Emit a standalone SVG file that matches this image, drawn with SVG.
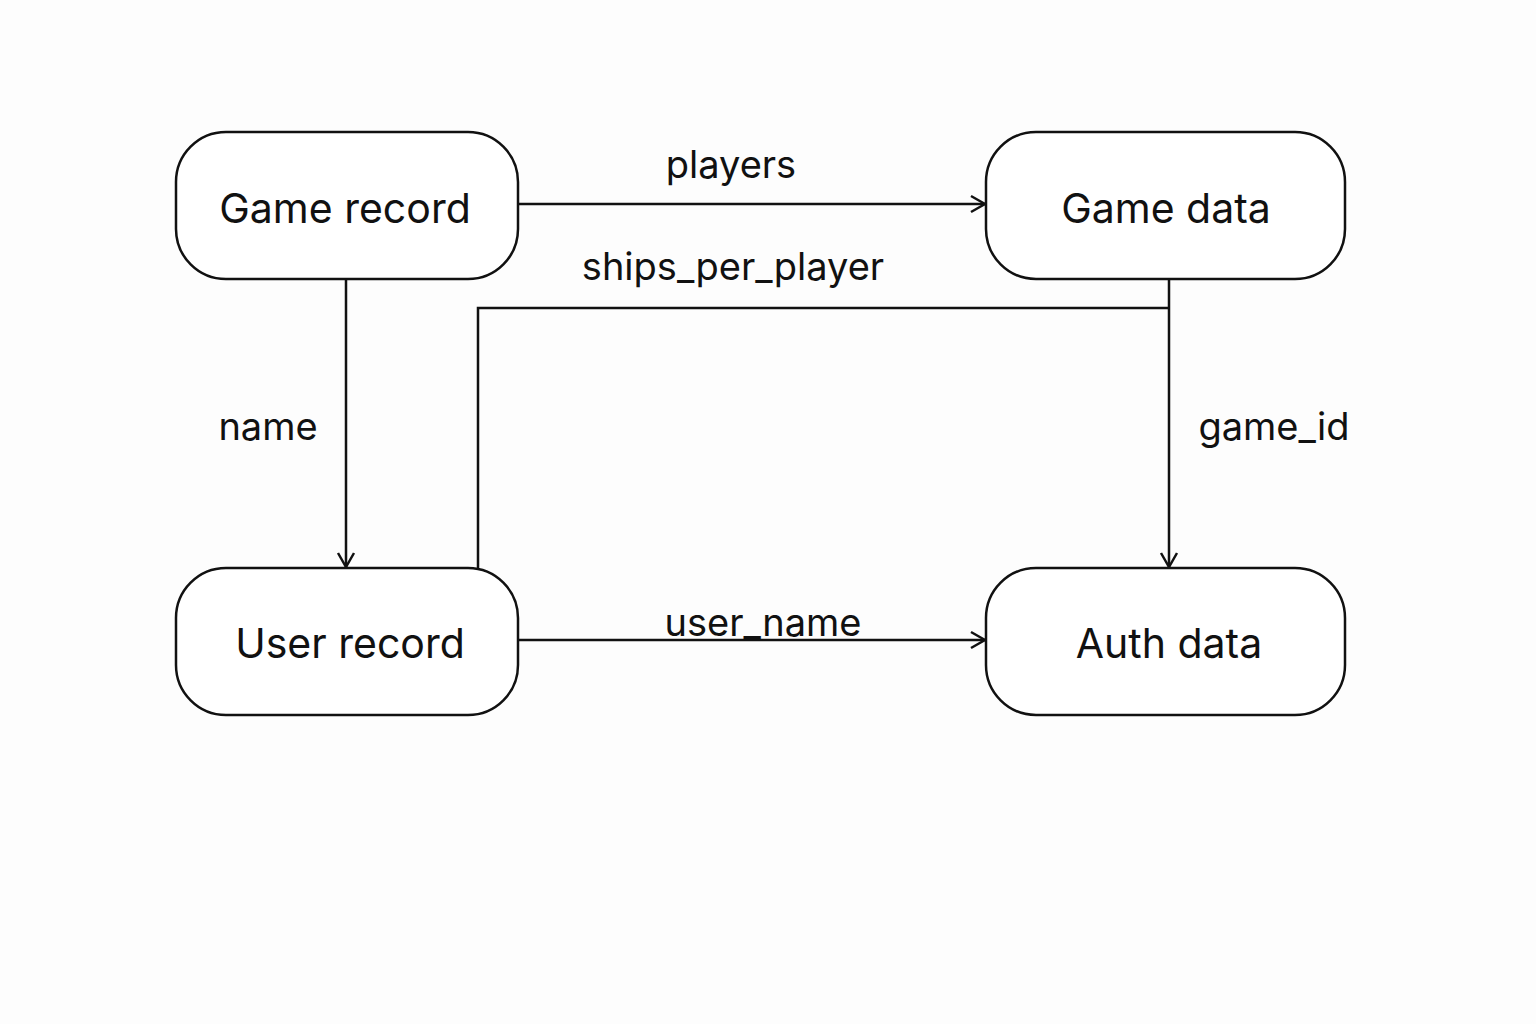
<svg xmlns="http://www.w3.org/2000/svg" width="1536" height="1024" viewBox="0 0 1536 1024">
<style>
.node rect{fill:#fff;stroke:#111;stroke-width:2.5}
.label{font-family:Inter,"Noto Sans",sans-serif;font-size:38px;fill:#111;text-anchor:middle}
.node text{font-size:41px}
.edge{fill:none;stroke:#111;stroke-width:2.5}
</style>
<defs>
<marker id="arr" viewBox="0 0 20 20" refX="18" refY="10" markerWidth="20" markerHeight="20" markerUnits="userSpaceOnUse" orient="auto">
<path d="M4,2 L18,10 L4,18" fill="none" stroke="#111" stroke-width="2.5"/>
</marker>
</defs>
<rect width="1536" height="1024" fill="#fdfdfd"/>
<g id="connectors">
<line class="edge" x1="518" y1="204" x2="985" y2="204" marker-end="url(#arr)"/>
<line class="edge" x1="346" y1="279" x2="346" y2="567" marker-end="url(#arr)"/>
<line class="edge" x1="1169" y1="279" x2="1169" y2="567" marker-end="url(#arr)"/>
<line class="edge" x1="518" y1="640" x2="985" y2="640" marker-end="url(#arr)"/>
<polyline class="edge" points="478,568 478,308 1169,308"/>
<text class="label" x="731" y="178">players</text>
<text class="label" x="733" y="280">ships_per_player</text>
<text class="label" x="268" y="440">name</text>
<text class="label" x="1274" y="440">game_id</text>
<text class="label" x="763" y="636">user_name</text>
</g>
<g id="game-record" class="node">
<rect x="176" y="132" width="342" height="147" rx="50"/>
<text class="label" x="345" y="223">Game record</text>
</g>
<g id="game-data" class="node">
<rect x="986" y="132" width="359" height="147" rx="50"/>
<text class="label" x="1166" y="223">Game data</text>
</g>
<g id="user-record" class="node">
<rect x="176" y="568" width="342" height="147" rx="50"/>
<text class="label" x="350" y="658">User record</text>
</g>
<g id="auth-data" class="node">
<rect x="986" y="568" width="359" height="147" rx="50"/>
<text class="label" x="1169" y="658">Auth data</text>
</g>
</svg>
